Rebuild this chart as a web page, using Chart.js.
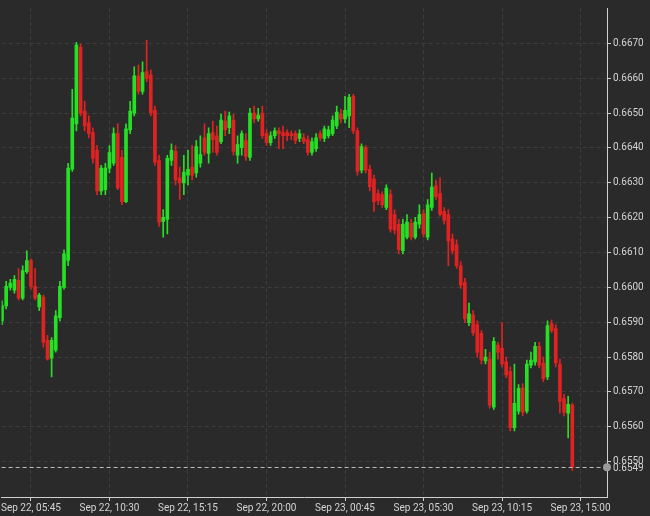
<!DOCTYPE html>
<html>
<head>
<meta charset="utf-8">
<script src="https://cdn.jsdelivr.net/npm/chart.js@4.4.0/dist/chart.umd.min.js"></script>
<style>
html,body{margin:0;padding:0;background:#2a2a2a;}
#wrap{width:650px;height:516px;position:relative;}
</style>
</head>
<body>
<div id="wrap"><canvas id="c"></canvas></div>
<script>
// 15-minute candles, Sep 22 04:00 -> Sep 23 14:30 (index = candle number)
const tickIndex  = [7, 26, 45, 64, 83, 102, 121, 140];
const tickLabels = ["Sep 22, 05:45","Sep 22, 10:30","Sep 22, 15:15","Sep 22, 20:00",
                    "Sep 23, 00:45","Sep 23, 05:30","Sep 23, 10:15","Sep 23, 15:00"];
const priceTicks = [0.6550,0.6560,0.6570,0.6580,0.6590,0.6600,0.6610,0.6620,0.6630,0.6640,0.6650,0.6660,0.6670];
const lastPriceLabel = "0.6549";

const openP = [
0.65904,0.65947,0.66000,0.65992,0.66020,0.65969,0.66045,0.66077,0.66003,0.65944,
0.65972,0.65848,0.65797,0.65820,0.65913,0.66000,0.66077,0.66339,0.66469,0.66689,
0.66506,0.66472,0.66444,0.66393,0.66277,0.66280,0.66342,0.66356,0.66441,0.66373,
0.66246,0.66452,0.66500,0.66607,0.66562,0.66619,0.66610,0.66508,0.66364,0.66189,
0.66195,0.66364,0.66390,0.66314,0.66300,0.66322,0.66345,0.66328,0.66356,0.66429,
0.66384,0.66444,0.66435,0.66418,0.66477,0.66458,0.66480,0.66379,0.66401,0.66421,
0.66373,0.66500,0.66483,0.66500,0.66441,0.66415,0.66435,0.66449,0.66444,0.66444,
0.66441,0.66441,0.66427,0.66429,0.66424,0.66387,0.66398,0.66441,0.66427,0.66435,
0.66441,0.66463,0.66497,0.66483,0.66492,0.66548,0.66449,0.66336,0.66401,0.66339,
0.66311,0.66269,0.66266,0.66229,0.66266,0.66209,0.66181,0.66105,0.66144,0.66184,
0.66144,0.66181,0.66212,0.66144,0.66229,0.66291,0.66269,0.66218,0.66209,0.66139,
0.66122,0.66062,0.66014,0.65899,0.65921,0.65893,0.65868,0.65789,0.65794,0.65656,
0.65834,0.65825,0.65786,0.65758,0.65597,0.65645,0.65712,0.65645,0.65777,0.65786,
0.65831,0.65783,0.65743,0.65896,0.65882,0.65780,0.65681,0.65639,0.65662];

const highP = [
0.65961,0.66017,0.66023,0.66034,0.66054,0.66062,0.66105,0.66082,0.66054,0.65983,
0.65978,0.65862,0.65856,0.65933,0.66017,0.66108,0.66356,0.66568,0.66703,0.66698,
0.66534,0.66492,0.66458,0.66407,0.66350,0.66356,0.66407,0.66458,0.66469,0.66393,
0.66469,0.66534,0.66633,0.66638,0.66647,0.66709,0.66624,0.66520,0.66379,0.66223,
0.66379,0.66412,0.66407,0.66345,0.66379,0.66393,0.66407,0.66421,0.66435,0.66469,
0.66458,0.66477,0.66463,0.66497,0.66506,0.66503,0.66497,0.66435,0.66449,0.66441,
0.66514,0.66520,0.66514,0.66520,0.66452,0.66446,0.66458,0.66458,0.66463,0.66452,
0.66449,0.66449,0.66452,0.66441,0.66435,0.66429,0.66441,0.66449,0.66463,0.66463,
0.66492,0.66520,0.66511,0.66548,0.66554,0.66554,0.66458,0.66412,0.66407,0.66350,
0.66322,0.66280,0.66274,0.66294,0.66280,0.66223,0.66195,0.66195,0.66209,0.66195,
0.66201,0.66237,0.66223,0.66252,0.66328,0.66308,0.66314,0.66229,0.66223,0.66153,
0.66136,0.66074,0.66026,0.65955,0.65933,0.65904,0.65876,0.65822,0.65814,0.65856,
0.65842,0.65899,0.65800,0.65772,0.65780,0.65721,0.65724,0.65791,0.65814,0.65842,
0.65842,0.65800,0.65904,0.65907,0.65893,0.65794,0.65693,0.65687,0.65667];

const lowP = [
0.65893,0.65938,0.65992,0.65983,0.65964,0.65964,0.66040,0.65995,0.65964,0.65933,
0.65828,0.65791,0.65743,0.65814,0.65904,0.65995,0.66062,0.66333,0.66449,0.66492,
0.66449,0.66429,0.66356,0.66266,0.66266,0.66266,0.66328,0.66350,0.66280,0.66237,
0.66243,0.66441,0.66492,0.66554,0.66554,0.66590,0.66492,0.66350,0.66175,0.66144,
0.66153,0.66350,0.66294,0.66252,0.66266,0.66294,0.66308,0.66316,0.66345,0.66379,
0.66356,0.66387,0.66379,0.66412,0.66435,0.66441,0.66379,0.66356,0.66379,0.66364,
0.66364,0.66472,0.66477,0.66427,0.66407,0.66407,0.66427,0.66398,0.66398,0.66421,
0.66424,0.66412,0.66418,0.66412,0.66379,0.66379,0.66390,0.66421,0.66418,0.66429,
0.66435,0.66455,0.66472,0.66472,0.66458,0.66441,0.66322,0.66328,0.66328,0.66277,
0.66218,0.66237,0.66229,0.66223,0.66158,0.66153,0.66096,0.66096,0.66139,0.66136,
0.66139,0.66170,0.66144,0.66136,0.66221,0.66252,0.66204,0.66181,0.66062,0.66096,
0.66054,0.65997,0.65899,0.65890,0.65862,0.65800,0.65780,0.65780,0.65653,0.65650,
0.65794,0.65772,0.65741,0.65588,0.65588,0.65636,0.65631,0.65639,0.65769,0.65777,
0.65769,0.65729,0.65735,0.65870,0.65772,0.65639,0.65631,0.65568,0.65475];

const closeP = [
0.65947,0.66003,0.66012,0.66023,0.65969,0.66048,0.66077,0.66003,0.65969,0.65978,
0.65842,0.65794,0.65848,0.65918,0.66003,0.66096,0.66342,0.66486,0.66695,0.66500,
0.66463,0.66441,0.66370,0.66277,0.66342,0.66342,0.66387,0.66441,0.66285,0.66246,
0.66455,0.66506,0.66607,0.66562,0.66616,0.66599,0.66500,0.66359,0.66187,0.66201,
0.66370,0.66393,0.66308,0.66300,0.66331,0.66339,0.66322,0.66404,0.66381,0.66387,
0.66441,0.66424,0.66387,0.66480,0.66452,0.66492,0.66390,0.66410,0.66441,0.66376,
0.66500,0.66483,0.66494,0.66435,0.66415,0.66435,0.66449,0.66441,0.66435,0.66435,
0.66435,0.66421,0.66441,0.66418,0.66387,0.66418,0.66429,0.66429,0.66455,0.66452,
0.66480,0.66503,0.66483,0.66508,0.66545,0.66449,0.66333,0.66404,0.66336,0.66288,
0.66246,0.66249,0.66237,0.66285,0.66167,0.66164,0.66108,0.66181,0.66187,0.66144,
0.66187,0.66209,0.66153,0.66237,0.66288,0.66260,0.66209,0.66192,0.66133,0.66105,
0.66062,0.66006,0.65910,0.65924,0.65870,0.65814,0.65791,0.65800,0.65662,0.65845,
0.65814,0.65780,0.65749,0.65597,0.65667,0.65710,0.65642,0.65780,0.65791,0.65831,
0.65777,0.65738,0.65890,0.65876,0.65783,0.65673,0.65642,0.65664,0.65484];

const n = openP.length;
if ([highP, lowP, closeP].some(a => a.length !== n)) {
  throw new Error('length mismatch ' + [openP.length, highP.length, lowP.length, closeP.length].join(','));
}

const GREEN = '#26e026', RED = '#e02222';
const candleColors = openP.map((o, i) => closeP[i] >= o ? GREEN : RED);
const wickData = openP.map((o, i) => ({x: i, y: [lowP[i], highP[i]]}));
const bodyData = openP.map((o, i) => ({x: i, y: [o, closeP[i]]}));

const AXIS = '#cfcfcf', GRID = '#3d3d3d', TEXT = '#d4d4d4';
const FONT = {family: 'Roboto', size: 10};

const bgPlugin = {
  id: 'bg',
  beforeDraw(chart) {
    const c = chart.ctx;
    c.save();
    c.fillStyle = '#2a2a2a';
    c.fillRect(0, 0, chart.width, chart.height);
    c.restore();
  }
};

const lastPricePlugin = {
  id: 'lastPrice',
  afterDraw(chart) {
    const c = chart.ctx, a = chart.chartArea;
    const y = chart.scales.y.getPixelForValue(closeP[n - 1]);
    c.save();
    c.strokeStyle = '#bdbdbd';
    c.lineWidth = 1;
    c.setLineDash([4, 3]);
    c.beginPath();
    c.moveTo(a.left, Math.round(y) + 0.5);
    c.lineTo(a.right, Math.round(y) + 0.5);
    c.stroke();
    c.setLineDash([]);
    c.fillStyle = '#9a9a9a';
    c.beginPath();
    c.arc(a.right, y, 4, 0, Math.PI * 2);
    c.fill();
    c.fillStyle = TEXT;
    c.font = '10px Roboto';
    c.textBaseline = 'middle';
    c.textAlign = 'left';
    c.fillText(lastPriceLabel, a.right + 6, y + 1);
    c.restore();
  }
};

new Chart(document.getElementById('c'), {
  type: 'bar',
  data: {
    datasets: [
      {label: 'wick', data: wickData, backgroundColor: candleColors, barThickness: 1, borderWidth: 0, order: 2},
      {label: 'body', data: bodyData, backgroundColor: candleColors, barThickness: 3, borderWidth: 0, minBarLength: 1, order: 1}
    ]
  },
  options: {
    responsive: true,
    maintainAspectRatio: false,
    animation: false,
    devicePixelRatio: 1,
    grouped: false,
    layout: {padding: 0},
    plugins: {legend: {display: false}, tooltip: {enabled: false}},
    scales: {
      x: {
        type: 'linear',
        min: -0.1,
        max: 146.4,
        offset: false,
        grid: {color: GRID, offset: false, drawTicks: true, tickLength: 4, tickColor: AXIS, tickBorderDash: [1, 0]},
        border: {display: true, color: AXIS, width: 1, dash: [4, 3]},
        ticks: {
          color: TEXT, font: FONT, padding: 1, maxRotation: 0, autoSkip: false,
          callback: (v) => { const k = tickIndex.indexOf(v); return k >= 0 ? tickLabels[k] : ''; }
        },
        afterBuildTicks: (s) => { s.ticks = tickIndex.map(v => ({value: v})); },
        afterFit: (s) => { s.height = 19; }
      },
      y: {
        position: 'right',
        min: 0.653984,
        max: 0.668016,
        grid: {color: GRID, drawTicks: true, tickLength: 4, tickColor: AXIS, tickBorderDash: [1, 0]},
        border: {display: true, color: AXIS, width: 1, dash: [4, 3]},
        ticks: {
          color: TEXT, font: FONT, padding: 2,
          callback: (v) => Number(v).toFixed(4)
        },
        afterBuildTicks: (s) => { s.ticks = priceTicks.map(v => ({value: v})); },
        afterFit: (s) => { s.width = 43; }
      }
    }
  },
  plugins: [bgPlugin, lastPricePlugin]
});
</script>
</body>
</html>
